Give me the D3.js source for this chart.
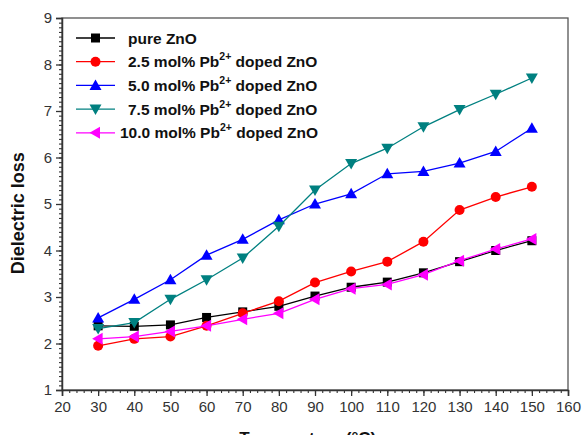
<!DOCTYPE html>
<html>
<head>
<meta charset="utf-8">
<script src="https://cdn.jsdelivr.net/npm/d3@7"></script>
<style>
  body { margin: 0; background: #fff; }
  svg { font-family: "Liberation Sans", Arial, sans-serif; }
</style>
</head>
<body>
<div id="plot"></div>
<script>
/* data */
var temps = [30, 40, 50, 60, 70, 80, 90, 100, 110, 120, 130, 140, 150];

var pureZnO  = [2.38, 2.37, 2.40, 2.56, 2.68, 2.80, 3.02, 3.21, 3.32, 3.52, 3.76, 4.00, 4.21];
var pb25     = [1.95, 2.10, 2.15, 2.38, 2.65, 2.91, 3.31, 3.55, 3.76, 4.19, 4.87, 5.15, 5.37];
var pb50     = [2.55, 2.95, 3.37, 3.90, 4.24, 4.66, 5.00, 5.22, 5.65, 5.70, 5.88, 6.13, 6.63];
var pb75     = [2.32, 2.45, 2.95, 3.37, 3.84, 4.52, 5.30, 5.87, 6.20, 6.66, 7.03, 7.36, 7.71];
var pb100    = [2.10, 2.15, 2.26, 2.38, 2.52, 2.65, 2.95, 3.18, 3.27, 3.48, 3.78, 4.03, 4.25];

var seriesNames = ['pure ZnO', '2.5 mol% Pb', '5.0 mol% Pb', '7.5 mol% Pb', '10.0 mol% Pb'];
var seriesValues = [pureZnO, pb25, pb50, pb75, pb100];
var seriesColors = ['#000000', '#ff0000', '#0000ff', '#008080', '#ff00ff'];
var seriesMarkers = ['square', 'circle', 'up', 'down', 'left'];

var xTicks = [20, 30, 40, 50, 60, 70, 80, 90, 100, 110, 120, 130, 140, 150, 160];
var yTicks = [1, 2, 3, 4, 5, 6, 7, 8, 9];

var margin = {t:18, r:15, b:45, l:62};
var W = 583, H = 435;
var width = W - margin.l - margin.r,
    height = H - margin.t - margin.b;

var svg = d3.select('#plot').append('svg')
    .attr('width', W).attr('height', H);

var plot = svg.append('g')
    .attr('transform', 'translate(' + margin.l + ',' + margin.t + ')');

var x = d3.scaleLinear().domain([20, 160]).range([0, width]);
var y = d3.scaleLinear().domain([1, 9]).range([height, 0]);

// frame
plot.append('rect')
    .attr('width', width).attr('height', height)
    .attr('fill', 'none').attr('stroke', '#555').attr('stroke-width', 1.3);

// minor ticks
var xMinor = d3.range(20, 160.1, 2);
var yMinor = d3.range(1, 9.01, 0.1);

plot.append('g')
    .attr('transform', 'translate(0,' + height + ')')
    .call(d3.axisBottom(x).tickValues(xMinor).tickSize(3).tickFormat(''))
    .call(function(g){ g.select('.domain').remove(); })
    .selectAll('line').attr('stroke', '#333').attr('stroke-width', 1.1);

plot.append('g')
    .call(d3.axisLeft(y).tickValues(yMinor).tickSize(3).tickFormat(''))
    .call(function(g){ g.select('.domain').remove(); })
    .selectAll('line').attr('stroke', '#333').attr('stroke-width', 1.1);

// major axes
var xAxis = plot.append('g')
    .attr('transform', 'translate(0,' + height + ')')
    .call(d3.axisBottom(x).tickValues(xTicks).tickSize(6).tickPadding(5));
var yAxis = plot.append('g')
    .call(d3.axisLeft(y).tickValues(yTicks).tickSize(6).tickPadding(4));

[xAxis, yAxis].forEach(function(a){
    a.select('.domain').attr('stroke', '#333').attr('stroke-width', 1.5);
    a.selectAll('line').attr('stroke', '#333').attr('stroke-width', 1.3);
    a.selectAll('text').attr('font-size', 15).attr('fill', '#333')
        .style('font-family', '"Liberation Sans", Arial, sans-serif');
});

// axis titles
svg.append('text')
    .attr('transform', 'translate(24,' + (margin.t + y(4.8)) + ') rotate(-90)')
    .attr('text-anchor', 'middle')
    .attr('font-size', 18).attr('font-weight', 'bold').attr('fill', '#111')
    .text('Dielectric loss');

svg.append('text')
    .attr('x', margin.l + x(88)).attr('y', 444)
    .attr('text-anchor', 'middle')
    .attr('font-size', 17).attr('font-weight', 'bold').attr('fill', '#111')
    .text('Temperature (\u00B0C)');

// marker shapes
function marker(sel, type, color) {
    if (type === 'square') {
        sel.append('rect').attr('x', -4.5).attr('y', -4.5).attr('width', 9).attr('height', 9).attr('fill', color);
    } else if (type === 'circle') {
        sel.append('circle').attr('r', 5).attr('fill', color);
    } else {
        var pts;
        if (type === 'up') pts = [[0,-6],[6,4.5],[-6,4.5]];
        else if (type === 'down') pts = [[0,6],[6,-4.5],[-6,-4.5]];
        else pts = [[-6,0],[4.5,-6],[4.5,6]];
        sel.append('path').attr('d', d3.line()(pts) + 'Z').attr('fill', color);
    }
}

var line = d3.line()
    .x(function(d){ return x(d[0]); })
    .y(function(d){ return y(d[1]); });

seriesValues.forEach(function(vals, i) {
    var pts = temps.map(function(t, j){ return [t, vals[j]]; });
    plot.append('path')
        .attr('d', line(pts))
        .attr('fill', 'none')
        .attr('stroke', seriesColors[i])
        .attr('stroke-width', 1.3);
    plot.selectAll('.m' + i)
        .data(pts).enter()
        .append('g')
        .attr('class', 'm' + i)
        .attr('transform', function(d){ return 'translate(' + x(d[0]) + ',' + y(d[1]) + ')'; })
        .each(function(){ marker(d3.select(this), seriesMarkers[i], seriesColors[i]); });
});

// legend
var legend = svg.append('g').attr('transform', 'translate(76,38)');
seriesNames.forEach(function(name, i) {
    var row = legend.append('g').attr('transform', 'translate(0,' + (i * 23.7) + ')');
    row.append('line').attr('x1', 0).attr('x2', 39).attr('y1', 0).attr('y2', 0)
        .attr('stroke', seriesColors[i]).attr('stroke-width', 1.3);
    var m = row.append('g').attr('transform', 'translate(19.5,0)');
    marker(m, seriesMarkers[i], seriesColors[i]);
    var t = row.append('text')
        .attr('x', i === 4 ? 44 : 52).attr('y', 5.5)
        .attr('font-size', 15.5).attr('font-weight', 'bold').attr('fill', '#111');
    t.append('tspan').text(name);
    if (i > 0) {
        t.append('tspan').attr('dy', -7).attr('font-size', 10.5).text('2+');
        t.append('tspan').attr('dy', 7).text(' doped ZnO');
    }
});
</script>
</body>
</html>
